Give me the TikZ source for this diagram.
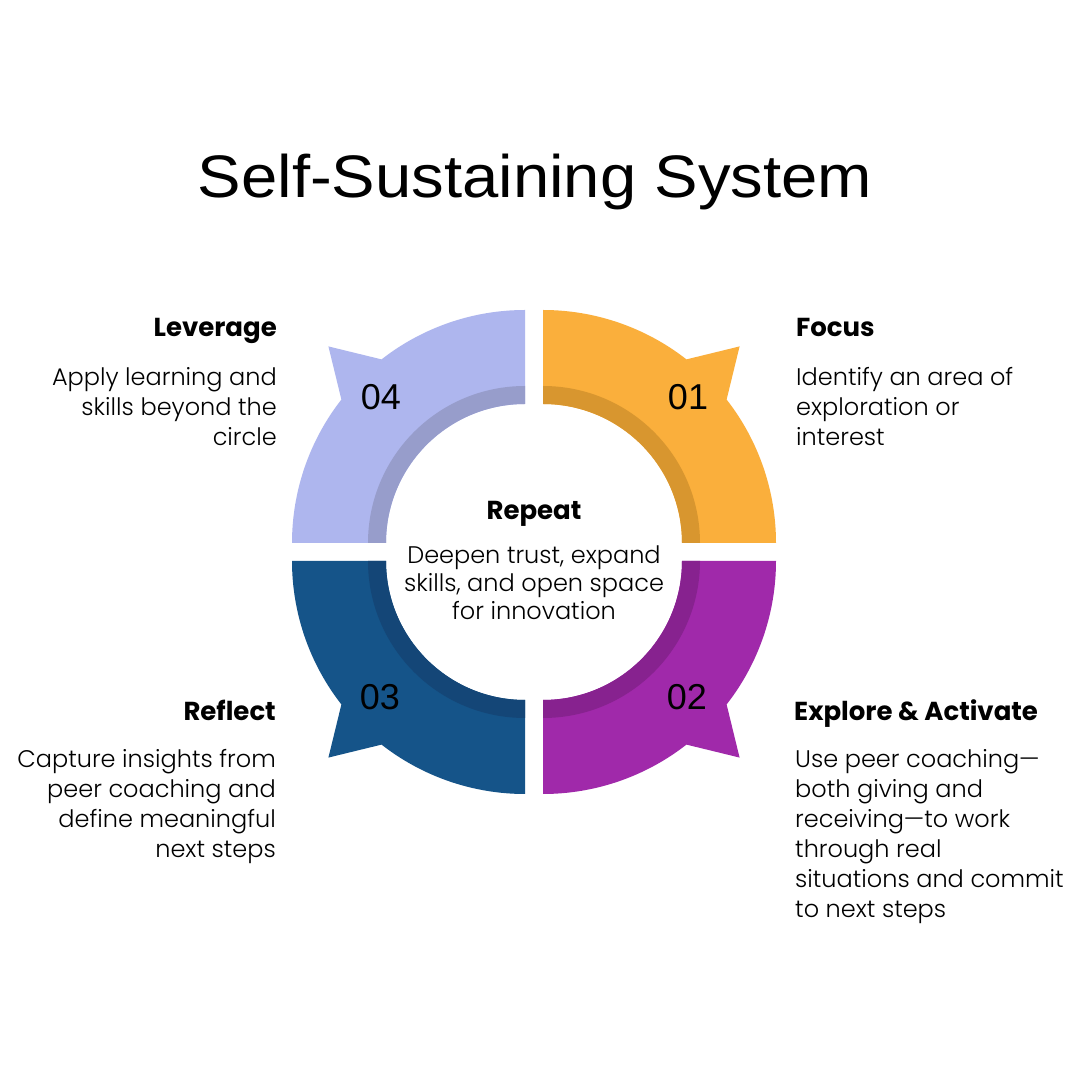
\documentclass[tikz,border=0pt]{standalone}
\usepackage{graphicx}
\usepackage{fontspec}
\setmainfont{Poppins}
\newfontfamily\numfont{Liberation Sans}
\newfontfamily\titlefont{Liberation Sans}
\newfontfamily\lightfont{Poppins Light}
\definecolor{cOr}{HTML}{FAAF3C}
\definecolor{cOrD}{HTML}{D8962F}
\definecolor{cPu}{HTML}{A029AA}
\definecolor{cPuD}{HTML}{87228F}
\definecolor{cBl}{HTML}{155489}
\definecolor{cBlD}{HTML}{144677}
\definecolor{cLa}{HTML}{AEB6EE}
\definecolor{cLaD}{HTML}{979DCB}
\begin{document}
\begin{tikzpicture}[x=1pt,y=1pt,
  numtxt/.style={font=\numfont\fontsize{36}{36}\selectfont, inner sep=0pt},
  headtxt/.style={font=\bfseries\fontsize{26}{30}\selectfont, inner sep=0pt},
  bodytxt/.style={font=\lightfont\fontsize{24}{30}\selectfont, inner sep=0pt},
  titletxt/.style={font=\titlefont\fontsize{60}{60}\selectfont, inner sep=0pt}]
\useasboundingbox (0,0) rectangle (1080,1080);
\fill[white] (0,0) rectangle (1080,1080);
% quadrants
\foreach \cx/\cy/\a/\fc/\dc in {543/537/0/cOr/cOrD, 543/519/270/cPu/cPuD, 525/519/180/cBl/cBlD, 525/537/90/cLa/cLaD} {
  \begin{scope}[shift={(\cx,\cy)}]
    \fill[\fc] (\a:233pt) arc[start angle=\a, end angle=\a+38, radius=233pt]
      -- (\a+45:278pt) -- (\a+52:233pt)
      arc[start angle=\a+52, end angle=\a+90, radius=233pt]
      -- (\a+90:139pt) arc[start angle=\a+90, end angle=\a, radius=139pt] -- cycle;
    \fill[\dc] (\a:139pt) arc[start angle=\a, end angle=\a+90, radius=139pt]
      -- (\a+90:157pt) arc[start angle=\a+90, end angle=\a, radius=157pt] -- cycle;
  \end{scope}
}
% numbers
\node[numtxt] (n1) at (688,683) {01};
\node[numtxt] (n4) at (381,683) {04};
\node[numtxt] (n3) at (380,383) {03};
\node[numtxt] (n2) at (687,383) {02};
% title
\node[titletxt, anchor=base] (title) at (535,882) {\scalebox{1.087}[1]{Self-Sustaining System}};
% Leverage
\node[headtxt, anchor=base east] (levh) at (277,743) {Leverage};
\node[bodytxt, anchor=base east] (lev1) at (277,694) {Apply learning and};
\node[bodytxt, anchor=base east] (lev2) at (277,664) {skills beyond the};
\node[bodytxt, anchor=base east] (lev3) at (277,634) {circle};
% Focus
\node[headtxt, anchor=base west] (foch) at (796,743) {Focus};
\node[bodytxt, anchor=base west] (foc1) at (796,694) {Identify an area of};
\node[bodytxt, anchor=base west] (foc2) at (796,664) {exploration or};
\node[bodytxt, anchor=base west] (foc3) at (796,634) {interest};
% Reflect
\node[headtxt, anchor=base east] (refh) at (276,359) {Reflect};
\node[bodytxt, anchor=base east] (ref1) at (276,312) {Capture insights from};
\node[bodytxt, anchor=base east] (ref2) at (276,282) {peer coaching and};
\node[bodytxt, anchor=base east] (ref3) at (276,252) {define meaningful};
\node[bodytxt, anchor=base east] (ref4) at (276,222) {next steps};
% Explore
\node[headtxt, anchor=base west] (exph) at (794,359) {Explore \& Activate};
\node[bodytxt, anchor=base west] (exp1) at (795,312) {Use peer coaching—};
\node[bodytxt, anchor=base west] (exp2) at (795,282) {both giving and};
\node[bodytxt, anchor=base west] (exp3) at (795,252) {receiving—to work};
\node[bodytxt, anchor=base west] (exp4) at (795,222) {through real};
\node[bodytxt, anchor=base west] (exp5) at (795,192) {situations and commit};
\node[bodytxt, anchor=base west] (exp6) at (795,162) {to next steps};
% Repeat
\node[headtxt, anchor=base] (reph) at (534,560) {Repeat};
\node[bodytxt, anchor=base] (rep1) at (534,516) {Deepen trust, expand};
\node[bodytxt, anchor=base] (rep2) at (534,488) {skills, and open space};
\node[bodytxt, anchor=base] (rep3) at (534,460) {for innovation};
\end{tikzpicture}
\end{document}
